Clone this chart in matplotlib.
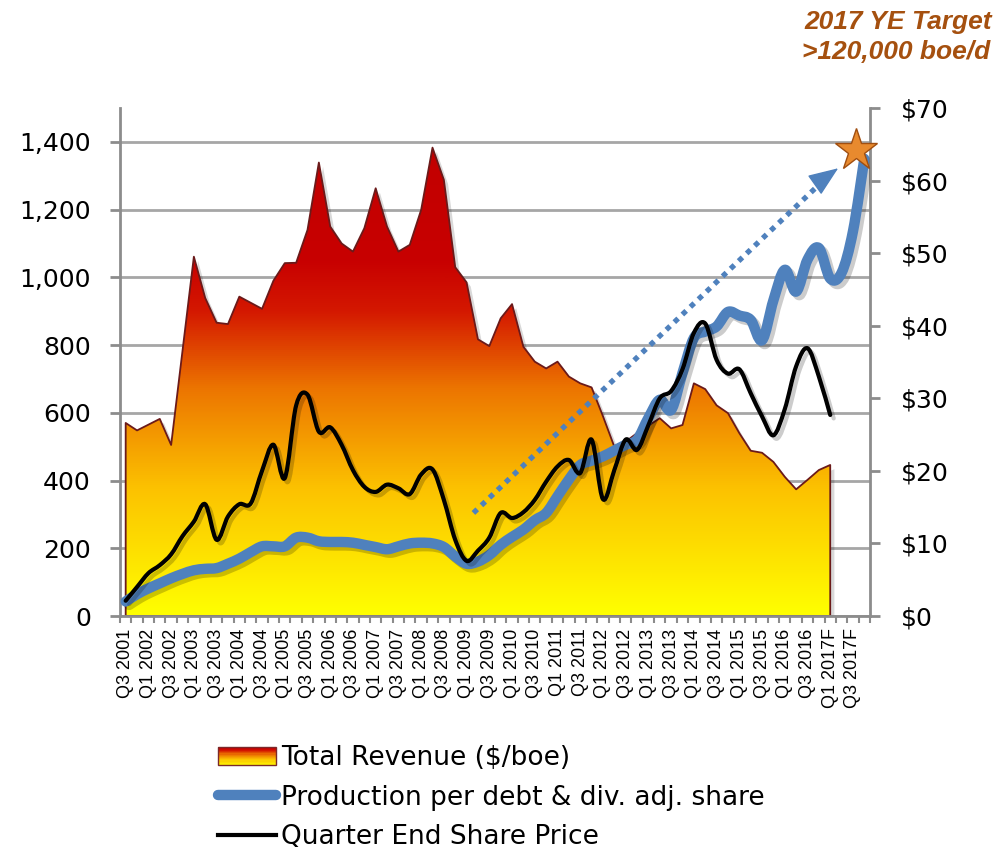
import matplotlib
matplotlib.use('Agg')
import matplotlib.pyplot as plt
import numpy as np
from matplotlib.colors import LinearSegmentedColormap
from matplotlib.legend_handler import HandlerBase
from matplotlib.patches import Rectangle, PathPatch
from matplotlib.lines import Line2D
from matplotlib.path import Path
import matplotlib.patheffects as pe

# ---------------- data ----------------
tick_labels = ['Q3 2001', 'Q1 2002', 'Q3 2002', 'Q1 2003', 'Q3 2003', 'Q1 2004', 'Q3 2004',
               'Q1 2005', 'Q3 2005', 'Q1 2006', 'Q3 2006', 'Q1 2007', 'Q3 2007', 'Q1 2008',
               'Q3 2008', 'Q1 2009', 'Q3 2009', 'Q1 2010', 'Q3 2010', 'Q1 2011', 'Q3 2011',
               'Q1 2012', 'Q3 2012', 'Q1 2013', 'Q3 2013', 'Q1 2014', 'Q3 2014', 'Q1 2015',
               'Q3 2015', 'Q1 2016', 'Q3 2016', 'Q1 2017F', 'Q3 2017F']

# Total Revenue ($/boe) - left axis, one value per quarter from Q3 2001
revenue = [570, 548, 565, 582, 505, 783, 1061, 939, 866, 862, 943, 925, 907, 990, 1042,
           1043, 1140, 1339, 1150, 1100, 1076, 1145, 1263, 1150, 1076, 1096, 1199, 1383,
           1288, 1030, 985, 817, 797, 879, 921, 795, 751, 731, 751, 707, 687, 675, 590,
           500, 515, 540, 562, 584, 554, 564, 687, 670, 622, 599, 540, 488, 482, 455,
           411, 374, 402, 431, 446]

# Quarter end share price ($) - right axis
price = [2.1, 4.0, 5.9, 7.0, 8.5, 11.0, 13.0, 15.4, 10.5, 13.7, 15.4, 15.5, 20.0, 23.6,
         19.0, 29.0, 30.5, 25.4, 26.0, 23.6, 20.1, 17.8, 17.1, 18.1, 17.6, 16.8, 19.5,
         20.2, 16.0, 10.5, 7.6, 9.0, 10.8, 14.2, 13.5, 14.3, 16.0, 18.5, 20.6, 21.5, 19.7,
         24.3, 16.1, 20.1, 24.3, 22.9, 26.3, 30.0, 31.0, 34.0, 39.0, 40.3, 35.3, 33.4,
         34.0, 30.7, 27.5, 24.9, 28.5, 34.4, 36.9, 33.0, 27.7]

# Production per debt & div. adj. share (plotted against right axis scale)
production = [2.0, 3.0, 3.8, 4.5, 5.2, 5.8, 6.3, 6.5, 6.6, 7.2, 7.9, 8.8, 9.6, 9.6, 9.6,
              10.8, 10.8, 10.3, 10.2, 10.2, 10.1, 9.8, 9.5, 9.2, 9.6, 10.0, 10.1, 10.0,
              9.5, 8.2, 7.2, 7.5, 8.4, 9.8, 10.9, 11.9, 13.2, 14.2, 16.5, 18.8, 20.8,
              21.4, 22.0, 22.8, 23.6, 24.3, 27.3, 29.8, 28.4, 33.5, 38.3, 39.2, 39.9,
              41.9, 41.4, 40.8, 38.0, 43.5, 47.7, 44.7, 49.1, 50.7, 46.5, 47.3, 53.0, 63.0]

n_quarters = 66
trend_start = (30.6, 14.2)
trend_end = (62.7, 61.7)
target_point = (64.3, 64.2)

# ---------------- styling ----------------
BLUE = '#4F81BD'
GRID = '#A6A6A6'
cmap = LinearSegmentedColormap.from_list(
    'rev', [(0.0, '#FFFF00'), (0.25, '#FCC200'), (0.45, '#EC7400'),
            (0.60, '#D41800'), (0.70, '#C80000'), (1.0, '#C00000')])


def smooth_path(xs, ys):
    """Smoothed (Catmull-Rom style) line through the data points, as Bezier path."""
    P = np.column_stack([xs, ys]).astype(float)
    Pe = np.vstack([P[0], P, P[-1]])
    verts = [P[0]]
    codes = [Path.MOVETO]
    for i in range(len(P) - 1):
        p0, p1, p2, p3 = Pe[i], Pe[i + 1], Pe[i + 2], Pe[i + 3]
        verts += [p1 + (p2 - p0) / 6.0, p2 - (p3 - p1) / 6.0, p2]
        codes += [Path.CURVE4] * 3
    return Path(np.array(verts), codes)


fig = plt.figure(figsize=(9.95, 8.5), dpi=100)
ax = fig.add_axes([120 / 995, 1 - 616 / 850, 750 / 995, 508 / 850])
ax2 = ax.twinx()

x_rev = np.arange(len(revenue))
x_price = np.arange(len(price))
x_prod = np.arange(len(production))

# revenue area with gradient
ax.fill_between(x_rev, revenue, 0, facecolor='white', edgecolor='none', zorder=0.9,
                path_effects=[pe.SimplePatchShadow(offset=(3, -3), shadow_rgbFace='k',
                                                   alpha=0.15), pe.Normal()])
grad = np.linspace(0, 1, 512).reshape(-1, 1)
im = ax.imshow(grad, extent=[-0.5, n_quarters - 0.5, 0, 1500], origin='lower',
               aspect='auto', cmap=cmap, zorder=1)
poly = ax.fill_between(x_rev, revenue, 0, facecolor='none', edgecolor='#6B1A1A', lw=1.3,
                       zorder=1.2)
im.set_clip_path(poly.get_paths()[0], transform=ax.transData)

# grid & axes
ax.set_axisbelow(True)
ax.yaxis.grid(True, color=GRID, lw=2)
ax.set_yticks(range(0, 1401, 200))
ax.set_yticklabels([f'{v:,}' for v in range(0, 1401, 200)])
ax.tick_params(axis='y', direction='out', length=7, width=2, color='#8C8C8C',
               labelsize=18, pad=14)
ax.set_xticks(range(0, 65, 2))
ax.set_xticklabels(tick_labels, rotation=90, fontfamily='Liberation Sans', fontsize=13)
ax.set_xticks(np.arange(-0.5, n_quarters, 1), minor=True)
ax.tick_params(axis='x', which='major', length=0, pad=9)
ax.tick_params(axis='x', which='minor', length=5, width=1.5, color='#8C8C8C')

ax2.set_yticks(range(0, 71, 10))
ax2.set_yticklabels([f'${v}' for v in range(0, 71, 10)])
ax2.tick_params(axis='y', direction='out', length=7, width=2, color='#8C8C8C',
                labelsize=18, pad=15)

for a in (ax, ax2):
    a.spines['top'].set_visible(False)
ax.spines['right'].set_visible(False)
ax2.spines['left'].set_visible(False)
ax2.spines['bottom'].set_visible(False)
for s in (ax.spines['left'], ax.spines['bottom'], ax2.spines['right']):
    s.set_color('#8C8C8C')
    s.set_linewidth(2)

# trend arrow
ax2.plot([trend_start[0], trend_end[0] - 0.7], [trend_start[1], trend_end[1] - 0.8],
         color=BLUE, lw=3.8, linestyle=(0, (1, 1.1)), dash_capstyle='butt', zorder=2)
ax2.annotate('', xy=trend_end, xytext=(trend_end[0] - 0.9, trend_end[1] - 1.0),
             arrowprops=dict(arrowstyle='-|>,head_length=1.9,head_width=0.75', color=BLUE,
                             lw=1, shrinkA=0, shrinkB=0), zorder=2)

# smoothed lines
shadow_fx = [pe.SimpleLineShadow(offset=(2.5, -2.5), alpha=0.2), pe.Normal()]
ax2.add_patch(PathPatch(smooth_path(x_prod, production), fill=False, edgecolor=BLUE,
                        lw=7.5, capstyle='round', joinstyle='round', zorder=3,
                        path_effects=shadow_fx))
ax2.add_patch(PathPatch(smooth_path(x_price, price), fill=False, edgecolor='black',
                        lw=3, capstyle='round', joinstyle='round', zorder=4,
                        path_effects=shadow_fx))

# target star
ax2.plot([target_point[0]], [target_point[1]], marker='*', ms=32, mfc='#E88A2E',
         mec='#A04E10', mew=1, zorder=6, clip_on=False)

ax.set_xlim(-0.5, n_quarters - 0.5)
ax.set_ylim(0, 1500)
ax2.set_ylim(0, 70)

fig.text(992 / 995, 1 - 22 / 850, '2017 YE Target', ha='right', va='center',
         fontfamily='Liberation Sans', fontweight='bold', fontstyle='italic',
         fontsize=19, color='#A5500F')
fig.text(990 / 995, 1 - 52 / 850, '>120,000 boe/d', ha='right', va='center',
         fontfamily='Liberation Sans', fontweight='bold', fontstyle='italic',
         fontsize=19, color='#A5500F')


# legend
class HandlerGradient(HandlerBase):
    def create_artists(self, legend, orig_handle, xdescent, ydescent, width, height,
                       fontsize, trans):
        arts = []
        n = 16
        for i in range(n):
            c = cmap(0.05 + 0.7 * i / (n - 1))
            arts.append(Rectangle((-xdescent, -ydescent + height * i / n), width, height / n,
                                  facecolor=c, edgecolor='none', transform=trans))
        arts.append(Rectangle((-xdescent, -ydescent), width, height, facecolor='none',
                              edgecolor='#7B2A2A', lw=1, transform=trans))
        return arts


handles = [Rectangle((0, 0), 1, 1),
           Line2D([], [], color=BLUE, lw=7.5, solid_capstyle='round'),
           Line2D([], [], color='black', lw=3)]
labels = ['Total Revenue ($/boe)', 'Production per debt & div. adj. share',
          'Quarter End Share Price']
fig.legend(handles, labels, loc='upper left', bbox_to_anchor=(218 / 995, 1 - 745 / 850),
           frameon=False, fontsize=19, handlelength=2.2, handletextpad=0.2,
           labelspacing=0.52, borderaxespad=0, borderpad=0,
           handler_map={Rectangle: HandlerGradient()})

fig.savefig('out.png', dpi=100)
